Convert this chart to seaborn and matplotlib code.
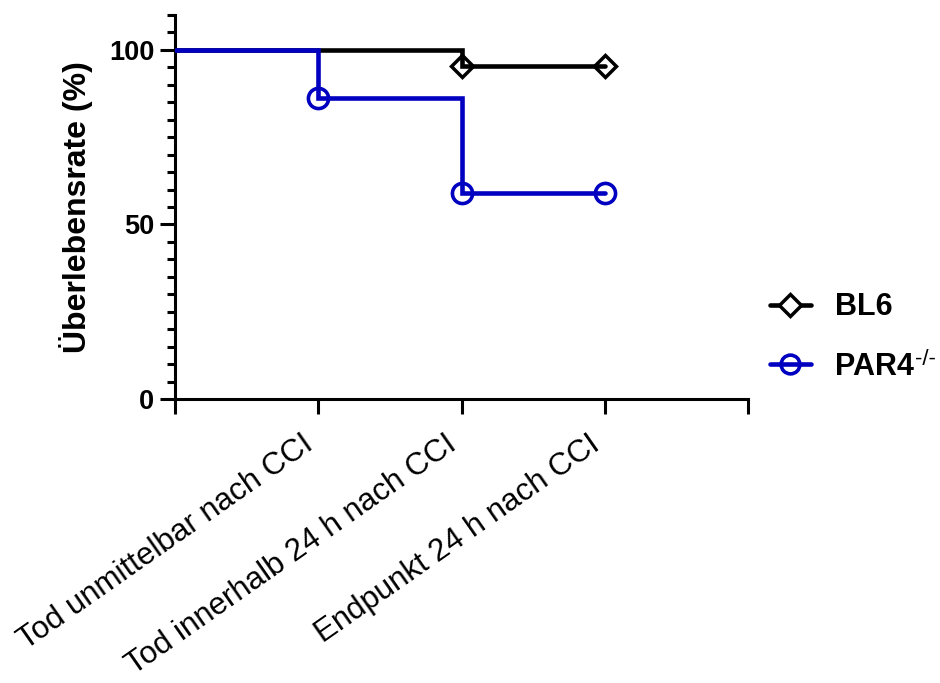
import numpy as np
import pandas as pd
import matplotlib
matplotlib.use("Agg")
import matplotlib.pyplot as plt
from matplotlib.lines import Line2D
from matplotlib.ticker import MultipleLocator
from matplotlib.transforms import ScaledTranslation
import seaborn as sns

# ---- data ----
groups = ["BL6", "PAR4"]
bl6_time = [0, 2, 3]
bl6_surv = [100.0, 95.45, 95.45]
bl6_mark_time = [2, 3]
bl6_mark_surv = [95.45, 95.45]
par4_time = [0, 1, 2, 3]
par4_surv = [100.0, 86.36, 59.09, 59.09]
par4_mark_time = [1, 2, 3]
par4_mark_surv = [86.36, 59.09, 59.09]
tick_positions = [0, 1, 2, 3, 4]
tick_labels = ["", "Tod unmittelbar nach CCI", "Tod innerhalb 24 h nach CCI",
               "Endpunkt 24 h nach CCI", ""]
colors = {"BL6": "#000000", "PAR4": "#0000C0"}

sns.set_style("ticks")
plt.rcParams["font.family"] = ["Liberation Sans", "DejaVu Sans"]
for k in ["text.color", "axes.labelcolor", "xtick.color", "ytick.color", "axes.edgecolor"]:
    plt.rcParams[k] = "black"

fig = plt.figure(figsize=(9.4, 6.83), dpi=100)
ax = fig.add_axes([175 / 940, 1 - 399 / 683, (748 - 175) / 940, (399 - 15) / 683])

df = pd.concat([
    pd.DataFrame({"t": bl6_time, "s": bl6_surv, "g": "BL6"}),
    pd.DataFrame({"t": par4_time, "s": par4_surv, "g": "PAR4"}),
])
lw = 3.3
for g in groups:
    sub = df[df.g == g]
    sns.lineplot(data=sub, x="t", y="s", color=colors[g], drawstyle="steps-post",
                 linewidth=lw, estimator=None, sort=False, ax=ax, legend=False,
                 solid_joinstyle="miter", zorder=3)

ax.plot(bl6_mark_time, bl6_mark_surv, linestyle="none", marker="D", ms=11.5,
        mfc="none", mec=colors["BL6"], mew=2.5, zorder=4, clip_on=False)
ax.plot(par4_mark_time, par4_mark_surv, linestyle="none", marker="o", ms=14.5,
        mfc="none", mec=colors["PAR4"], mew=2.6, zorder=5, clip_on=False)

ax.set_xlim(0, 4)
ax.set_ylim(0, 110)
ax.set_xticks(tick_positions)
ax.set_xticklabels(tick_labels, rotation=35, ha="right", rotation_mode="anchor",
                   fontsize=22.5)
ax.set_yticks([0, 50, 100])
ax.yaxis.set_minor_locator(MultipleLocator(5))
for lab in ax.get_yticklabels():
    lab.set_fontweight("bold")
    lab.set_fontsize(19.5)
ax.tick_params(axis="x", which="major", length=11, width=2.2, pad=8)
ax.tick_params(axis="y", which="major", length=11, width=2.2, pad=4)
ax.tick_params(axis="y", which="minor", length=6, width=2.2)
ax.set_xlabel("")
ax.set_ylabel("Überlebensrate (%)", fontsize=23, fontweight="bold")
ax.yaxis.set_label_coords((93 - 175) / 573, 0.5)
for side in ["left", "bottom"]:
    ax.spines[side].set_linewidth(2.2)
sns.despine(ax=ax)

handles = [
    Line2D([], [], color=colors["BL6"], lw=lw, marker="D", ms=11, mfc="white",
           mec=colors["BL6"], mew=2.5),
    Line2D([], [], color=colors["PAR4"], lw=lw, marker="o", ms=13.5, mfc="none",
           mec=colors["PAR4"], mew=2.6),
]
leg = fig.legend(handles, ["BL6", "PAR4"], loc="center left",
                 bbox_to_anchor=(770 / 940, 1 - 337 / 683), frameon=False,
                 borderpad=0, borderaxespad=0,
                 prop={"family": "Liberation Sans", "weight": "bold", "size": 22},
                 handlelength=1.34, handletextpad=0.78, labelspacing=0.95)

fig.canvas.draw()
off = ScaledTranslation(-17 / 100, -4 / 100, fig.dpi_scale_trans)
for tk in ax.xaxis.get_major_ticks():
    tk.label1.set_transform(tk.label1.get_transform() + off)

r = fig.canvas.get_renderer()
bb = leg.get_texts()[1].get_window_extent(r)
fig.text(bb.x1 / 940 + 0.001, bb.y1 / 683 - 0.012, "-/-", fontsize=16,
         ha="left", va="center", family="Liberation Sans")

fig.savefig("out.png", dpi=100, facecolor="white")
